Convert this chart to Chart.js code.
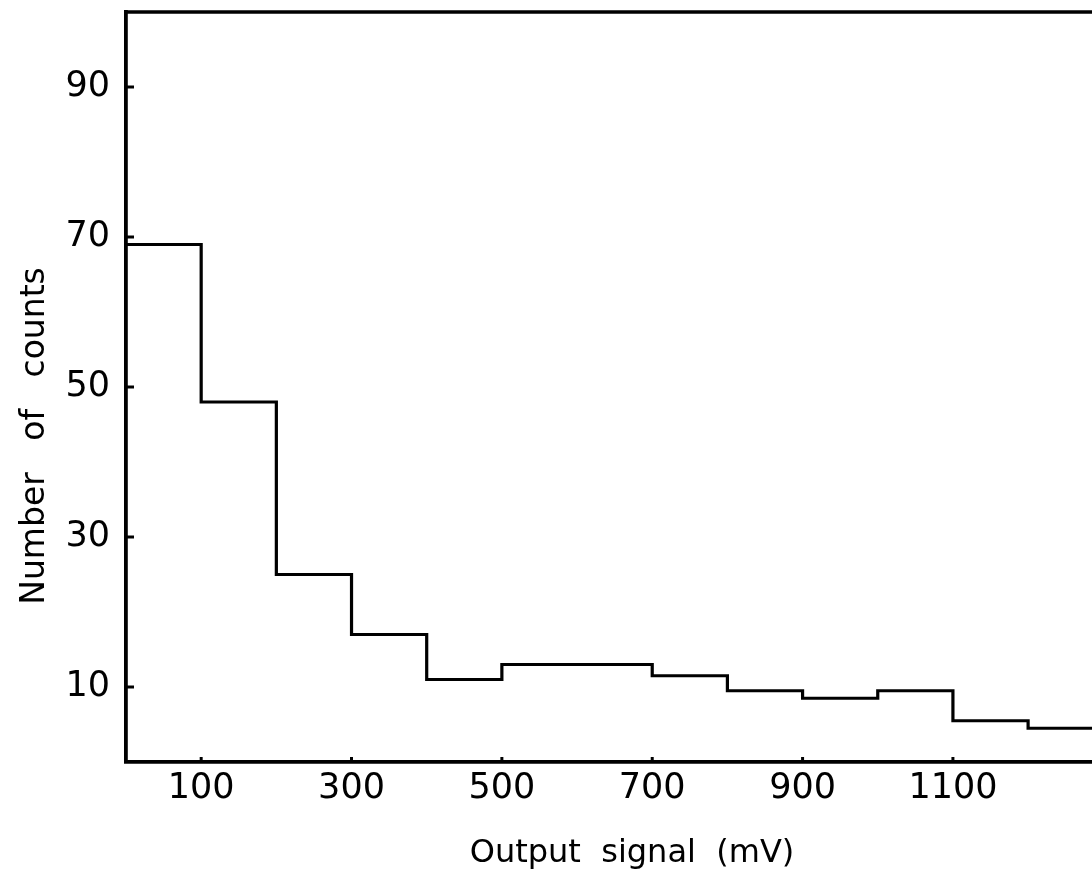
<!DOCTYPE html>
<html>
<head>
<meta charset="utf-8">
<script src="https://cdn.jsdelivr.net/npm/chart.js@4/dist/chart.umd.min.js"></script>
<style>
    html, body { margin: 0; padding: 0; background: #fff; }
    canvas { display: block; }
</style>
</head>
<body>
<canvas id="chart" width="1092" height="874"></canvas>
<script>
    // histogram bins (mV), left edges plus the closing edge
    var binEdges = [0, 100, 200, 300, 400, 500, 600, 700, 800, 900, 1000, 1100, 1200, 1300];
    // counts per bin
    var counts = [69, 48, 25, 17, 11, 13, 13, 11.5, 9.5, 8.5, 9.5, 5.5, 4.5];
    var xTicks = [100, 300, 500, 700, 900, 1100];
    var yTicks = [10, 30, 50, 70, 90];
    var xTitle = 'Output  signal  (mV)';
    var yTitle = 'Number   of   counts';

    var FONT = '"DejaVu Sans", sans-serif';

    // build step points: each bin value held until the next edge
    var points = [];
    for (var i = 0; i < counts.length; i++) {
        points.push({x: binEdges[i], y: counts[i]});
    }
    points.push({x: binEdges[binEdges.length - 1], y: counts[counts.length - 1]});

    // top frame line, inward tick marks and the axis titles
    var framePlugin = {
        id: 'frame',
        afterDraw: function(chart) {
            var ctx = chart.ctx;
            var area = chart.chartArea;
            var xs = chart.scales.x;
            var ys = chart.scales.y;
            ctx.save();
            ctx.strokeStyle = '#000';
            ctx.lineWidth = 3.5;
            ctx.beginPath();
            ctx.moveTo(area.left - 1.5, area.top);
            ctx.lineTo(area.right, area.top);
            ctx.stroke();

            ctx.lineWidth = 3;
            yTicks.forEach(function(v) {
                var y = ys.getPixelForValue(v);
                ctx.beginPath();
                ctx.moveTo(area.left, y);
                ctx.lineTo(area.left + 8, y);
                ctx.stroke();
            });
            xTicks.forEach(function(v) {
                var x = xs.getPixelForValue(v);
                ctx.beginPath();
                ctx.moveTo(x, area.bottom);
                ctx.lineTo(x, area.bottom - 5);
                ctx.stroke();
            });

            // titles sit a bit off-centre in the original
            ctx.fillStyle = '#000';
            ctx.font = '32px ' + FONT;
            ctx.textAlign = 'center';
            ctx.textBaseline = 'alphabetic';
            ctx.fillText(xTitle, 632, 862);

            ctx.font = '33px ' + FONT;
            ctx.translate(44, 436);
            ctx.rotate(-Math.PI / 2);
            ctx.fillText(yTitle, 0, 0);
            ctx.restore();
        }
    };

    function plainLabel(value) {
        return String(value);
    }

    new Chart(document.getElementById('chart').getContext('2d'), {
        type: 'line',
        data: {
            datasets: [{
                data: points,
                stepped: 'before',
                borderColor: '#000',
                borderWidth: 3.2,
                pointRadius: 0,
                fill: false,
            }]
        },
        options: {
            responsive: false,
            animation: false,
            devicePixelRatio: 1,
            layout: {padding: {top: 12, right: 0, left: 0, bottom: 0}},
            plugins: {
                legend: {display: false},
                tooltip: {enabled: false},
            },
            scales: {
                x: {
                    type: 'linear',
                    min: 0,
                    max: 1285,
                    afterBuildTicks: function(scale) {
                        scale.ticks = xTicks.map(function(v) { return {value: v}; });
                    },
                    afterFit: function(scale) {
                        scale.height = 112;
                        scale.paddingLeft = 0;
                        scale.paddingRight = 0;
                    },
                    grid: {drawOnChartArea: false, drawTicks: false},
                    border: {display: true, color: '#000', width: 3.8},
                    ticks: {
                        color: '#000',
                        padding: 6,
                        maxRotation: 0,
                        callback: plainLabel,
                        font: {family: FONT, size: 35},
                    },
                },
                y: {
                    min: 0,
                    max: 100,
                    afterBuildTicks: function(scale) {
                        scale.ticks = yTicks.map(function(v) { return {value: v}; });
                    },
                    afterFit: function(scale) {
                        scale.width = 126;
                        scale.paddingTop = 0;
                        scale.paddingBottom = 0;
                    },
                    grid: {drawOnChartArea: false, drawTicks: false},
                    border: {display: true, color: '#000', width: 3.8},
                    ticks: {
                        color: '#000',
                        padding: 16,
                        callback: plainLabel,
                        font: {family: FONT, size: 35},
                    },
                },
            },
        },
        plugins: [framePlugin],
    });
</script>
</body>
</html>
